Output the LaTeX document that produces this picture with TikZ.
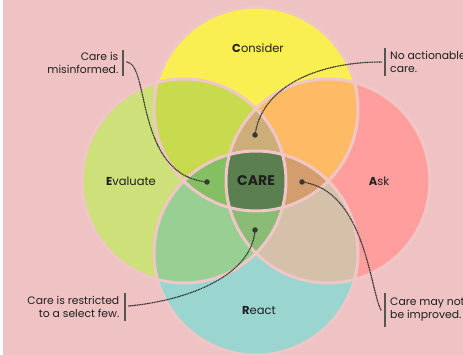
\documentclass[tikz,border=0pt]{standalone}
\usepackage{fontspec}
\setmainfont{Poppins}
\definecolor{bg}{HTML}{EFC3C4}
\definecolor{ring}{HTML}{F0C6C6}
\definecolor{cTop}{HTML}{F9EE52}
\definecolor{cLeft}{HTML}{CDE07A}
\definecolor{cRight}{HTML}{FF9E9C}
\definecolor{cBot}{HTML}{9AD5D0}
\definecolor{cTL}{HTML}{C8DA4E}
\definecolor{cTR}{HTML}{FFBA66}
\definecolor{cBL}{HTML}{98CF92}
\definecolor{cBR}{HTML}{D5C0AA}
\definecolor{pTop}{HTML}{CDAE78}
\definecolor{pRight}{HTML}{D49D6D}
\definecolor{pLeft}{HTML}{85BF63}
\definecolor{pBot}{HTML}{8ABC75}
\definecolor{cCore}{HTML}{5B7F4E}
\definecolor{ink}{HTML}{1E1E1E}
\definecolor{dotc}{HTML}{383838}
\definecolor{barc}{HTML}{555555}
\tikzset{
  ringline/.style={draw=ring,line width=3pt},
  calltext/.style={font=\fontsize{10.8}{13}\selectfont,text=ink,inner sep=0pt},
  regtext/.style={font=\fontsize{11.5}{14}\selectfont,text=ink,inner sep=0pt},
  barline/.style={draw=barc,line width=1.3pt},
  dotline/.style={draw=dotc,line width=1.6pt,line cap=round,dash pattern=on 0pt off 1.7pt},
  enddot/.style={fill=dotc,circle,inner sep=0pt,minimum size=5.5pt},
}
\begin{document}
\begin{tikzpicture}[x=1pt,y=-1pt]
\useasboundingbox (0,0) rectangle (463,355);
\fill[bg] (0,0) rectangle (463,355);
\fill[white] (0,0) rectangle (3,355);
\def\R{102pt}
\coordinate (cT) at (256,109);
\coordinate (cL) at (184,181);
\coordinate (cR) at (328,181);
\coordinate (cB) at (256,253);
% single circles
\fill[cTop] (cT) circle[radius=\R];
\fill[cLeft] (cL) circle[radius=\R];
\fill[cRight] (cR) circle[radius=\R];
\fill[cBot] (cB) circle[radius=\R];
% pairs
\begin{scope}\clip (cT) circle[radius=\R]; \fill[cTL] (cL) circle[radius=\R]; \fill[cTR] (cR) circle[radius=\R];\end{scope}
\begin{scope}\clip (cB) circle[radius=\R]; \fill[cBL] (cL) circle[radius=\R]; \fill[cBR] (cR) circle[radius=\R];\end{scope}
% triples
\begin{scope}\clip (cL) circle[radius=\R]; \clip (cR) circle[radius=\R]; \fill[pTop] (cT) circle[radius=\R]; \fill[pBot] (cB) circle[radius=\R];\end{scope}
\begin{scope}\clip (cT) circle[radius=\R]; \clip (cB) circle[radius=\R]; \fill[pLeft] (cL) circle[radius=\R]; \fill[pRight] (cR) circle[radius=\R];\end{scope}
% core
\begin{scope}\clip (cT) circle[radius=\R]; \clip (cB) circle[radius=\R]; \clip (cL) circle[radius=\R]; \fill[cCore] (cR) circle[radius=\R];\end{scope}
% rings
\draw[ringline] (cT) circle[radius=\R];
\draw[ringline] (cL) circle[radius=\R];
\draw[ringline] (cR) circle[radius=\R];
\draw[ringline] (cB) circle[radius=\R];
% region labels
\node[regtext] (consider) at (258,48) {\textbf{C}onsider};
\node[regtext] (evaluate) at (131,181) {\textbf{E}valuate};
\node[regtext] (ask) at (379,181) {\textbf{A}sk};
\node[regtext] (react) at (259,311) {\textbf{R}eact};
\node[font=\fontsize{14}{16}\selectfont\bfseries,text=ink,inner sep=0pt] (care) at (256,181) {CARE};
% callout 1
\node[calltext,anchor=east,align=right] (t1) at (118.5,63) {Care is\\misinformed.};
\coordinate (b1a) at (123,50); \coordinate (b1b) at (123,76);
\draw[barline] (b1a) -- (b1b);
\coordinate (s1) at (127,62);
\node[enddot] (d1) at (207,182) {};
\draw[dotline] (s1) .. controls (150,65) and (135,175) .. (d1.center);
% callout 2
\node[calltext,anchor=west,align=left] (t2) at (390,62) {No actionable\\care.};
\coordinate (b2a) at (385,48); \coordinate (b2b) at (385,76);
\draw[barline] (b2a) -- (b2b);
\coordinate (s2) at (381,62);
\node[enddot] (d2) at (255,135) {};
\draw[dotline] (s2) .. controls (320,62) and (262,85) .. (d2.center);
% callout 3
\node[calltext,anchor=east,align=right] (t3) at (119.5,307) {Care is restricted\\to a select few.};
\coordinate (b3a) at (125,293); \coordinate (b3b) at (125,321);
\draw[barline] (b3a) -- (b3b);
\coordinate (s3) at (129,306);
\node[enddot] (d3) at (255,230) {};
\draw[dotline] (s3) .. controls (190,300) and (252,275) .. (d3.center);
% callout 4
\node[calltext,anchor=west,align=left] (t4) at (390,310) {Care may not\\be improved.};
\coordinate (b4a) at (385,293); \coordinate (b4b) at (385,327);
\draw[barline] (b4a) -- (b4b);
\coordinate (s4) at (381,310);
\node[enddot] (d4) at (302,182) {};
\draw[dotline] (d4.center) .. controls (365,190) and (370,290) .. (s4);
\end{tikzpicture}
\end{document}
